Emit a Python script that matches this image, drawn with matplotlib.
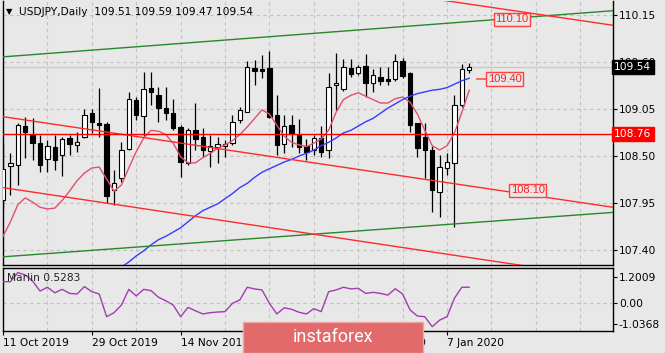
import numpy as np
import matplotlib.pyplot as plt
from matplotlib.patches import Rectangle
from matplotlib.transforms import blended_transform_factory

# 1. Data (daily bars, index 0 = 11 Oct 2019)
opens = [107.99, 108.38, 108.39, 108.85, 108.75, 108.65, 108.46, 108.61, 108.51, 108.71,
         108.63, 108.72, 109.00, 108.89, 108.87, 108.10, 108.24, 108.58, 109.16, 108.97,
         109.30, 109.21, 109.06, 109.00, 108.84, 108.42, 108.81, 108.72, 108.56, 108.60,
         108.62, 108.65, 108.92, 109.02, 109.53, 109.52, 109.53, 108.98, 108.64, 108.86,
         108.75, 108.62, 108.57, 108.71, 108.57, 109.33, 109.28, 109.53, 109.47, 109.55,
         109.35, 109.42, 109.40, 109.40, 109.61, 109.47, 108.89, 108.72, 108.57, 108.08,
         108.36, 108.42, 109.10, 109.51]
highs = [108.65, 108.53, 108.89, 108.96, 108.94, 108.75, 108.69, 108.75, 108.72, 108.75,
         108.78, 109.05, 109.05, 109.30, 108.90, 108.34, 108.66, 109.25, 109.19, 109.48,
         109.48, 109.31, 109.31, 109.17, 108.86, 108.83, 109.12, 108.83, 108.75, 108.72,
         108.69, 108.98, 109.07, 109.61, 109.62, 109.68, 109.73, 109.21, 108.98, 108.98,
         108.93, 108.70, 108.75, 108.85, 109.47, 109.71, 109.64, 109.64, 109.57, 109.69,
         109.52, 109.54, 109.54, 109.69, 109.65, 109.48, 108.89, 108.89, 108.62, 108.51,
         108.53, 109.21, 109.58, 109.59]
lows = [107.87, 108.04, 108.16, 108.48, 108.45, 108.31, 108.31, 108.34, 108.27, 108.51,
        108.55, 108.71, 108.77, 108.72, 107.95, 107.93, 108.19, 108.57, 108.92, 108.73,
        109.10, 108.90, 108.92, 108.80, 108.25, 108.39, 108.57, 108.49, 108.37, 108.42,
        108.49, 108.63, 108.89, 109.02, 109.33, 109.41, 108.94, 108.51, 108.54, 108.61,
        108.54, 108.45, 108.51, 108.49, 108.48, 109.04, 109.26, 109.42, 109.45, 109.19,
        109.25, 109.33, 109.33, 109.38, 109.41, 108.78, 108.49, 108.24, 107.84, 107.79,
        108.28, 107.67, 109.07, 109.47]
closes = [108.35, 108.42, 108.86, 108.78, 108.65, 108.39, 108.62, 108.45, 108.70, 108.64,
          108.66, 108.98, 108.90, 108.86, 108.03, 108.18, 108.57, 109.17, 108.98, 109.28,
          109.25, 109.06, 109.00, 108.83, 108.43, 108.80, 108.70, 108.57, 108.62, 108.64,
          108.64, 108.90, 109.04, 109.54, 109.50, 109.50, 108.96, 108.63, 108.85, 108.77,
          108.61, 108.55, 108.71, 108.55, 109.31, 109.36, 109.54, 109.46, 109.54, 109.35,
          109.45, 109.38, 109.38, 109.61, 109.44, 108.86, 108.59, 108.57, 108.10, 108.37,
          108.43, 109.10, 109.52, 109.54]

ma_fast = [107.56, 107.73, 107.93, 108.01, 107.96, 107.90, 107.88, 107.89, 107.98, 108.09,
           108.21, 108.30, 108.36, 108.37, 108.23, 108.09, 108.16, 108.36, 108.55, 108.71,
           108.80, 108.79, 108.75, 108.65, 108.49, 108.42, 108.42, 108.48, 108.53, 108.59,
           108.63, 108.68, 108.75, 108.84, 108.94, 109.04, 108.99, 108.86, 108.73, 108.66,
           108.63, 108.61, 108.65, 108.70, 108.80, 109.01, 109.16, 109.21, 109.24, 109.20,
           109.16, 109.12, 109.12, 109.17, 109.19, 109.13, 108.99, 108.80, 108.62, 108.57,
           108.62, 108.77, 109.01, 109.27]
ma_slow = [np.nan] * 15 + [
           107.14, 107.20, 107.26, 107.33, 107.39, 107.46, 107.52, 107.56, 107.61, 107.66,
           107.73, 107.80, 107.86, 107.90, 107.94, 108.00, 108.06, 108.13, 108.18, 108.25,
           108.31, 108.35, 108.39, 108.43, 108.46, 108.50, 108.53, 108.57, 108.62, 108.66,
           108.71, 108.77, 108.80, 108.85, 108.90, 108.94, 109.00, 109.06, 109.11, 109.16,
           109.20, 109.23, 109.25, 109.27, 109.28, 109.30, 109.34, 109.38, 109.41]

marlin = [0.98, 0.98, 1.41, 1.30, 1.01, 0.54, 0.72, 0.46, 0.62, 0.43,
          0.40, 0.75, 0.51, 0.40, -0.67, -0.48, -0.12, 0.62, 0.31, 0.62,
          0.56, 0.25, 0.08, -0.12, -0.67, -0.23, -0.39, -0.54, -0.48, -0.45,
          -0.43, -0.04, 0.12, 0.72, 0.64, 0.59, -0.04, -0.54, -0.25, -0.32,
          -0.46, -0.54, -0.29, -0.43, 0.51, 0.59, 0.72, 0.64, 0.67, 0.43,
          0.48, 0.43, 0.35, 0.65, 0.40, -0.35, -0.64, -0.67, -1.14, -0.83,
          -0.67, 0.20, 0.72, 0.72]

date_idx = [0, 12, 24, 36, 48, 60]
date_lbl = ["11 Oct 2019", "29 Oct 2019", "14 Nov 2019", "2 Dec 2019", "18 Dec 2019", "7 Jan 2020"]
price_ticks = [110.15, 109.60, 109.05, 108.50, 107.95, 107.40]

# trend lines as (bar, price) end points
green_hi = ([0, 82.4], [109.66, 110.20])
green_lo = ([0, 82.4], [107.32, 107.84])
red_hi = ([0, 82.4], [111.08, 110.03])
red_mid = ([0, 82.4], [108.96, 107.90])
red_lo = ([0, 82.4], [108.13, 107.06])
level = 108.76
last_price = 109.54

# price notes: (bar, price, text)
notes = [(68.8, 110.10, "110.10"), (67.8, 109.40, "109.40"), (70.9, 108.10, "108.10")]

# 2. Figure
bg = "#e8e8e8"
grid_kw = dict(color="#c2c2c2", lw=0.8, ls=(0, (3, 3)))
W, H = 665, 353

def box(x0, y0, x1, y1):
    return [x0 / W, 1 - y1 / H, (x1 - x0) / W, (y1 - y0) / H]

fig = plt.figure(figsize=(6.65, 3.53), dpi=100, facecolor=bg)
ax = fig.add_axes(box(2.5, 1, 612.5, 265), facecolor=bg)
ax2 = fig.add_axes(box(2.5, 268, 612.5, 331), facecolor=bg, sharex=ax)

x = np.arange(len(opens))
o, h, l, c = map(np.array, (opens, highs, lows, closes))
up = c >= o

for k in range(6, 84, 6):
    ax.axvline(k, zorder=0, **grid_kw)
    ax2.axvline(k, zorder=0, **grid_kw)
for p in price_ticks:
    ax.axhline(p, zorder=0, **grid_kw)
ax2.axhline(0, zorder=0, **grid_kw)
ax.axhline(last_price, color="#c9c9c9", lw=1, zorder=1)

# candles
ax.vlines(x, l, h, color="black", lw=0.9, zorder=3)
body_lo = np.minimum(o, c)
body_h = np.maximum(np.abs(c - o), 0.012)
ax.bar(x, body_h, bottom=body_lo, width=0.58, color=np.where(up, "white", "black"),
       edgecolor="black", lw=0.8, zorder=4)

# moving averages
ax.plot(x, ma_fast, color="#e2506c", lw=1, zorder=5)
ax.plot(x, ma_slow, color="#3a3aff", lw=1, zorder=5)

# trend lines
for ln in (green_hi, green_lo):
    ax.plot(ln[0], ln[1], color="#2a862a", lw=1, zorder=5)
for ln in (red_hi, red_mid, red_lo):
    ax.plot(ln[0], ln[1], color="#ff2a2a", lw=1, zorder=5)
ax.axhline(level, color="#ff0000", lw=1, zorder=5)

for bx, py, txt in notes:
    ax.text(bx, py, txt, color="#ff2020", fontsize=8, family="Liberation Sans",
            ha="center", va="center", zorder=7,
            bbox=dict(boxstyle="square,pad=0.15", fc=bg, ec="#ff4040", lw=1))
ax.plot([64.0, 65.3], [109.40, 109.40], color="#ff5050", lw=1.2, zorder=6)

ax.set_xlim(-0.07, 82.36)
ax.set_ylim(107.2243, 110.3138)

# right price axis
ax.yaxis.tick_right()
ax.set_yticks(price_ticks, [f"{p:.2f}" for p in price_ticks])
ax.tick_params(axis="y", length=3, width=0.8, pad=1.5, labelsize=7.7, colors="black")
ax.tick_params(axis="x", length=0, labelbottom=False)

tr = blended_transform_factory(ax.transAxes, ax.transData)
ax.text(1.003, last_price, "109.54", transform=tr, color="white", fontsize=7.7,
        va="center", ha="left", zorder=10, clip_on=False,
        bbox=dict(boxstyle="square,pad=0.2", fc="black", ec="black"))
ax.text(1.003, level, "108.76", transform=tr, color="white", fontsize=7.7,
        va="center", ha="left", zorder=10, clip_on=False,
        bbox=dict(boxstyle="square,pad=0.2", fc="#ff0000", ec="#ff0000"))

# 3. Indicator panel
ax2.plot(x, marlin, color="#a23cb0", lw=1, zorder=3)
ax2.set_ylim(-1.344, 1.627)
ax2.yaxis.tick_right()
ax2.set_yticks([1.2009, 0, -1.0368], ["1.2009", "0.00", "-1.0368"])
ax2.tick_params(axis="y", length=3, width=0.8, pad=1.5, labelsize=7.7)
ax2.set_xticks(date_idx, date_lbl, ha="left")
ax2.tick_params(axis="x", length=3, width=0.8, pad=2, labelsize=7.7)
ax2.text(0.008, 0.84, "Marlin 0.5283", transform=ax2.transAxes, fontsize=7.7,
         color="#222222", ha="left", va="center", zorder=6)

for a in (ax, ax2):
    for s in a.spines.values():
        s.set_color("black")
        s.set_linewidth(1)
ax.spines["top"].set_visible(False)

# 4. Title and watermark
fig.text(6 / W, 1 - 12 / H, "\u25bc", fontsize=6, ha="left", va="center")
fig.text(19 / W, 1 - 12 / H, "USDJPY,Daily  109.51 109.59 109.47 109.54",
         fontsize=7.7, ha="left", va="center")

fig.add_artist(Rectangle((243 / W, 0), 180 / W, 31 / H, transform=fig.transFigure,
                         fc="#e26a6a", ec="#eea4a4", lw=1, zorder=10))
fig.text(333 / W, 1 - 337 / H, "instaforex", color="white", fontsize=13,
         family="Roboto", ha="center", va="center", zorder=11)

fig.savefig("out.png", dpi=100, facecolor=bg)
